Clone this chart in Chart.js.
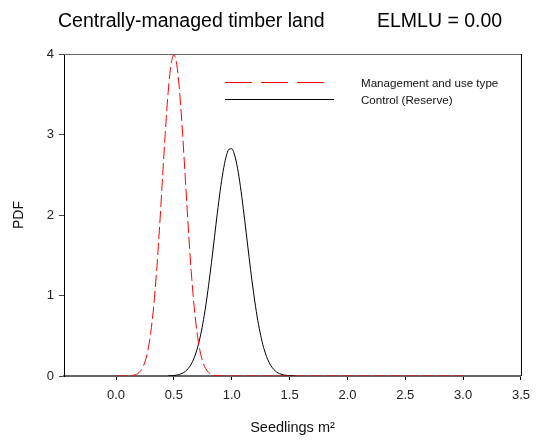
<!DOCTYPE html>
<html>
<head>
<meta charset="utf-8">
<script src="https://cdn.jsdelivr.net/npm/chart.js@4"></script>
<style>
  html, body { margin: 0; padding: 0; background: #fff; }
</style>
</head>
<body>
<canvas id="chart" width="538" height="444"></canvas>
<script>
const FONT = '"Liberation Sans", Arial, Helvetica, sans-serif';

const titleLeft = 'Centrally-managed timber land';
const titleRight = 'ELMLU = 0.00';

// Management and use type (dashed red)
const mgmtX = [0, 0.025, 0.05, 0.075, 0.1, 0.125, 0.15, 0.175, 0.2, 0.225, 0.25, 0.275, 0.3, 0.325, 0.35, 0.375,
  0.4, 0.425, 0.45, 0.475, 0.5, 0.525, 0.55, 0.575, 0.6, 0.625, 0.65, 0.675, 0.7, 0.725, 0.75, 0.775,
  0.8, 0.825, 0.85, 0.875, 0.9, 0.925, 0.95, 0.975, 1.0, 1.5, 2.0, 2.5, 3.0];
const mgmtY = [0, 0, 0, 0, 0.001, 0.004, 0.009, 0.020, 0.044, 0.091, 0.175, 0.317, 0.540, 0.863, 1.295, 1.826,
  2.420, 3.011, 3.520, 3.866, 3.989, 3.866, 3.520, 3.011, 2.420, 1.826, 1.295, 0.863, 0.540, 0.317, 0.175, 0.091,
  0.044, 0.020, 0.009, 0.004, 0.001, 0, 0, 0, 0, 0, 0, 0, 0];

// Control (Reserve) (solid black)
const ctrlX = [0.45, 0.475, 0.5, 0.525, 0.55, 0.575, 0.6, 0.625, 0.65, 0.675, 0.7, 0.725, 0.75, 0.775, 0.8,
  0.825, 0.85, 0.875, 0.9, 0.925, 0.95, 0.975, 1.0, 1.025, 1.05, 1.075, 1.1, 1.125, 1.15, 1.175, 1.2,
  1.225, 1.25, 1.275, 1.3, 1.325, 1.35, 1.375, 1.4, 1.425, 1.45, 1.475, 1.5, 1.525, 1.55];
const ctrlY = [0.002, 0.003, 0.006, 0.011, 0.020, 0.035, 0.058, 0.095, 0.148, 0.225, 0.331, 0.472, 0.651, 0.870, 1.127,
  1.413, 1.716, 2.020, 2.302, 2.541, 2.717, 2.814, 2.823, 2.743, 2.582, 2.354, 2.078, 1.778, 1.473, 1.182, 0.919,
  0.692, 0.505, 0.356, 0.244, 0.162, 0.104, 0.065, 0.039, 0.023, 0.013, 0.007, 0.004, 0.002, 0.001];

const xTicks = [0.0, 0.5, 1.0, 1.5, 2.0, 2.5, 3.0, 3.5];
const yTicks = [0, 1, 2, 3, 4];

const toPoints = (xs, ys) => xs.map((x, i) => ({ x: x, y: ys[i] }));

// heading, legend and the top/right frame edges
const decor = {
  id: 'decor',
  afterDatasetsDraw(chart) {
    const { ctx, chartArea: a } = chart;
    ctx.save();
    ctx.lineWidth = 1;
    ctx.strokeStyle = '#666';
    ctx.beginPath();
    ctx.moveTo(a.left, a.top + 0.5);
    ctx.lineTo(a.right + 1, a.top + 0.5);
    ctx.stroke();
    ctx.strokeStyle = '#000';
    ctx.beginPath();
    ctx.moveTo(a.right + 0.5, a.top);
    ctx.lineTo(a.right + 0.5, a.bottom);
    ctx.stroke();

    ctx.fillStyle = '#000';
    ctx.textBaseline = 'alphabetic';
    ctx.font = '19.5px ' + FONT;
    ctx.fillText(titleLeft, 58, 26.5);
    ctx.fillText(titleRight, 377, 26.5);

    ctx.font = '11.6px ' + FONT;
    ctx.fillStyle = '#111';
    chart.data.datasets.forEach((ds, i) => {
      const y = 82.5 + i * 17;
      ctx.strokeStyle = ds.borderColor;
      ctx.lineWidth = 1;
      ctx.setLineDash(ds.legendDash);
      ctx.beginPath();
      ctx.moveTo(225, y);
      ctx.lineTo(225 + ds.legendLen, y);
      ctx.stroke();
      ctx.setLineDash([]);
      ctx.fillText(ds.label, 361, y + 4);
    });
    ctx.restore();
  }
};

new Chart(document.getElementById('chart'), {
  type: 'scatter',
  data: {
    datasets: [
      {
        label: 'Management and use type',
        data: toPoints(mgmtX, mgmtY),
        showLine: true,
        borderColor: '#ff0000',
        borderWidth: 1,
        borderDash: [12, 4],
        legendDash: [27, 9],
        legendLen: 99,
        pointRadius: 0,
        cubicInterpolationMode: 'monotone'
      },
      {
        label: 'Control (Reserve)',
        data: toPoints(ctrlX, ctrlY),
        showLine: true,
        borderColor: '#000000',
        borderWidth: 1,
        legendDash: [],
        legendLen: 109,
        pointRadius: 0,
        cubicInterpolationMode: 'monotone'
      }
    ]
  },
  options: {
    responsive: false,
    animation: false,
    devicePixelRatio: 1,
    layout: { padding: { top: 54, right: 13, left: 0, bottom: 0 } },
    plugins: {
      legend: { display: false },
      tooltip: { enabled: false }
    },
    scales: {
      x: {
        type: 'linear',
        min: -0.45,
        max: 3.5,
        afterFit: (s) => { s.height = 68; },
        afterBuildTicks: (s) => { s.ticks = xTicks.map(v => ({ value: v })); },
        border: { display: true, color: '#666', width: 2 },
        grid: { display: true, drawOnChartArea: false, drawTicks: true, tickLength: 4, tickColor: '#000' },
        ticks: {
          padding: 8,
          color: '#222',
          font: { family: FONT, size: 13 },
          maxRotation: 0,
          callback: (v) => Number(v).toFixed(1)
        },
        title: {
          display: true,
          text: 'Seedlings m²',
          color: '#111',
          font: { family: FONT, size: 14.5 },
          padding: { top: 0, bottom: 7 }
        }
      },
      y: {
        type: 'linear',
        min: 0,
        max: 4,
        afterFit: (s) => { s.width = 64; },
        afterBuildTicks: (s) => { s.ticks = yTicks.map(v => ({ value: v })); },
        border: { display: true, color: '#000', width: 1 },
        grid: { display: true, drawOnChartArea: false, drawTicks: true, tickLength: 5, tickColor: '#444' },
        ticks: {
          padding: 5,
          color: '#222',
          font: { family: FONT, size: 13 },
          callback: (v) => String(v)
        },
        title: {
          display: true,
          text: 'PDF',
          color: '#111',
          font: { family: FONT, size: 14 },
          padding: { top: 11, bottom: 0 }
        }
      }
    }
  },
  plugins: [decor]
});
</script>
</body>
</html>
